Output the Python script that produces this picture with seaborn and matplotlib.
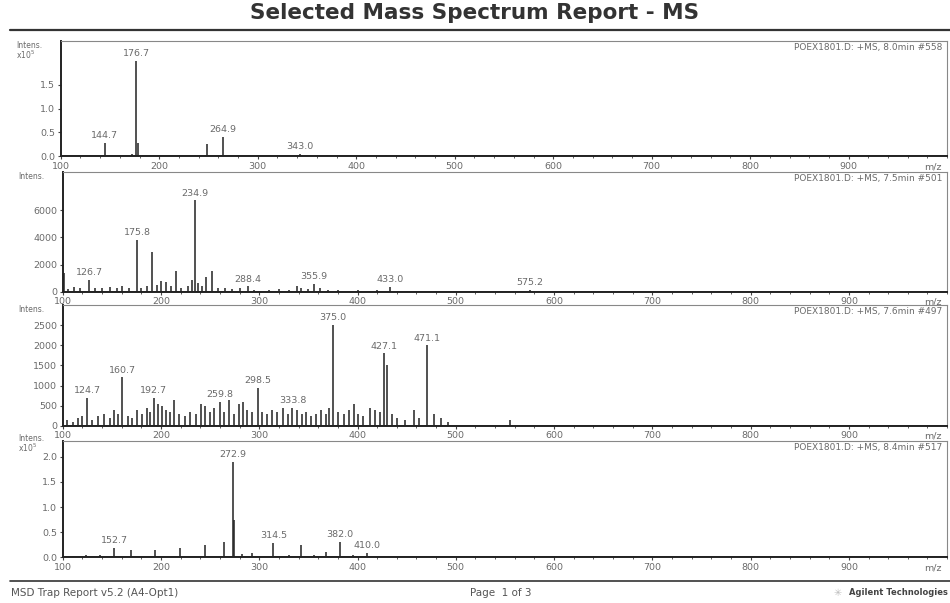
import matplotlib
matplotlib.use("Agg")
import matplotlib.pyplot as plt
from matplotlib.ticker import MultipleLocator
import seaborn as sns
import pandas as pd

sns.set_style("ticks")
plt.rcParams["font.family"] = ["DejaVu Sans"]

# ---- spectrum 1 (intensity x10^5) ----
mz1 = [105, 118, 130, 144.7, 160, 172, 176.7, 178.5, 195, 220, 236, 248.0, 264.9, 280, 300, 320, 343.0, 370, 395, 430]
int1 = [0.02, 0.03, 0.03, 0.28, 0.03, 0.04, 2.0, 0.28, 0.02, 0.03, 0.03, 0.26, 0.40, 0.03, 0.03, 0.02, 0.05, 0.02, 0.02, 0.02]
lab1 = [144.7, 176.7, 264.9, 343.0]

# ---- spectrum 2 (intensity) ----
mz2 = [101, 105, 112, 118, 126.7, 133, 140, 148, 155, 160, 167, 175.8, 180, 186, 191, 196, 200,
       205, 210, 215, 220, 228, 232, 234.9, 238, 242, 246, 252, 258, 265, 272, 280, 288.4, 295,
       310, 320, 330, 338, 342, 350, 355.9, 362, 370, 380, 400, 420, 433.0, 450, 480, 575.2]
int2 = [1400, 200, 350, 250, 900, 300, 250, 350, 300, 400, 250, 3800, 300, 450, 2900, 500, 800,
        700, 400, 1500, 300, 450, 900, 6700, 650, 450, 1100, 1500, 300, 250, 200, 250, 400, 150,
        150, 200, 150, 400, 250, 200, 600, 300, 150, 150, 100, 100, 350, 80, 60, 120]
lab2 = [126.7, 175.8, 234.9, 288.4, 355.9, 433.0, 575.2]

# ---- spectrum 3 (intensity) ----
mz3 = [104, 110, 116, 120, 124.7, 130, 136, 142, 148, 152, 156, 160.7, 166, 171, 176, 181, 186, 189,
       192.7, 197, 201, 205, 209, 213, 218, 224, 230, 236, 241, 245, 250, 254, 259.8, 264, 269, 274,
       279, 283, 288, 293, 298.5, 303, 308, 313, 318, 324, 329, 333.8, 338, 343, 348, 353, 358, 363,
       368, 371, 375.0, 380, 386, 391, 396, 401, 406, 413, 418, 423, 427.1, 430, 435, 440, 448, 457,
       463, 471.1, 478, 485, 492, 555]
int3 = [150, 100, 200, 250, 700, 150, 250, 300, 200, 400, 300, 1200, 250, 200, 400, 300, 450, 350,
        700, 550, 500, 400, 350, 650, 300, 250, 350, 300, 550, 500, 350, 450, 600, 350, 650, 300,
        550, 600, 400, 350, 950, 350, 300, 400, 350, 450, 300, 450, 400, 300, 350, 250, 300, 400,
        300, 450, 2500, 350, 300, 400, 550, 300, 250, 450, 400, 350, 1800, 1500, 300, 200, 150, 400,
        200, 2000, 300, 200, 100, 150]
lab3 = [124.7, 160.7, 192.7, 259.8, 298.5, 333.8, 375.0, 427.1, 471.1]

# ---- spectrum 4 (intensity x10^5) ----
mz4 = [110, 124, 138, 152.7, 170, 194, 219, 245, 264, 272.9, 274.5, 282, 293, 314.5, 330, 342, 356,
       368, 382.0, 395, 410.0]
int4 = [0.03, 0.05, 0.04, 0.18, 0.15, 0.15, 0.19, 0.25, 0.30, 1.90, 0.74, 0.06, 0.08, 0.28, 0.05,
        0.25, 0.05, 0.10, 0.30, 0.04, 0.08]
lab4 = [152.7, 272.9, 314.5, 382.0, 410.0]

titles = ["POEX1801.D: +MS, 8.0min #558", "POEX1801.D: +MS, 7.5min #501",
          "POEX1801.D: +MS, 7.6min #497", "POEX1801.D: +MS, 8.4min #517"]
x_ticks = [100, 200, 300, 400, 500, 600, 700, 800, 900]

panels = [
    dict(mz=mz1, inten=int1, labels=lab1, ylim=2.42, yticks=[0.0, 0.5, 1.0, 1.5], fmt="{:.1f}",
         ylab="Intens.\nx10$^5$", ylab_y=1.0),
    dict(mz=mz2, inten=int2, labels=lab2, ylim=8800, yticks=[0, 2000, 4000, 6000], fmt="{:d}",
         ylab="Intens.", ylab_y=1.0),
    dict(mz=mz3, inten=int3, labels=lab3, ylim=3000, yticks=[0, 500, 1000, 1500, 2000, 2500], fmt="{:d}",
         ylab="Intens.", ylab_y=1.0),
    dict(mz=mz4, inten=int4, labels=lab4, ylim=2.32, yticks=[0.0, 0.5, 1.0, 1.5, 2.0], fmt="{:.1f}",
         ylab="Intens.\nx10$^5$", ylab_y=1.06),
]

# axes rectangles in figure fractions (left, bottom, width, height)
rects = [(0.064, 0.741, 0.933, 0.191), (0.066, 0.516, 0.931, 0.199),
         (0.066, 0.294, 0.931, 0.200), (0.066, 0.076, 0.931, 0.193)]

fig = plt.figure(figsize=(9.5, 6.03), dpi=100)
txt = "#6a6a6a"

for p, rect, ttl in zip(panels, rects, titles):
    ax = fig.add_axes(rect)
    df = pd.DataFrame({"mz": p["mz"], "intensity": p["inten"]})
    # thin baseline trace along the m/z axis
    sns.lineplot(x=[100, 1000], y=[0, 0], ax=ax, color="#333333", lw=1.2)
    ax.vlines(df["mz"], 0, df["intensity"], color="#222222", lw=1.1)
    ax.set_xlim(100, 1000)
    ax.set_ylim(0, p["ylim"])
    ax.set_xticks(x_ticks)
    ax.set_xticklabels([str(t) for t in x_ticks], color=txt, fontsize=6.8)
    ax.xaxis.set_minor_locator(MultipleLocator(20))
    ax.set_yticks(p["yticks"])
    ax.set_yticklabels([p["fmt"].format(t) for t in p["yticks"]], color=txt, fontsize=6.8)
    ax.tick_params(axis="both", length=2.5, width=0.8, pad=1.5, colors="#444444", labelcolor=txt)
    ax.tick_params(axis="x", which="minor", length=1.5, width=0.6, colors="#444444")
    ax.set_xlabel("")
    ax.set_ylabel("")
    for side in ["left", "bottom"]:
        ax.spines[side].set_linewidth(1.4)
        ax.spines[side].set_color("#222222")
    for side in ["top", "right"]:
        ax.spines[side].set_linewidth(0.8)
        ax.spines[side].set_color("#888888")
    # peak labels
    for m in p["labels"]:
        h = df.loc[df["mz"] == m, "intensity"].iloc[0]
        ax.annotate(f"{m:.1f}", (m, h), xytext=(0, 2), textcoords="offset points",
                    ha="center", va="bottom", fontsize=6.8, color=txt)
    ax.text(0.995, 0.985, ttl, transform=ax.transAxes, ha="right", va="top",
            fontsize=6.5, color=txt)
    # axis unit sits in the tick-label row at the right end
    ax.annotate("m/z", (985, 0), xycoords=("data", "axes fraction"), xytext=(0, -4.3),
                textcoords="offset points", ha="center", va="top", fontsize=6.8, color=txt)
    ax.text(-0.05, p["ylab_y"], p["ylab"], transform=ax.transAxes, ha="left", va="top",
            fontsize=5.5, color=txt, linespacing=0.9)

# page header and footer
fig.text(0.5, 0.978, "Selected Mass Spectrum Report - MS", ha="center", va="center",
         fontsize=15.5, color="#333333", fontweight="bold")
fig.add_artist(plt.Line2D([0.01, 1.0], [0.951, 0.951], color="#333333", lw=1.6))
fig.add_artist(plt.Line2D([0.01, 1.0], [0.036, 0.036], color="#333333", lw=1.2))
fig.text(0.012, 0.017, "MSD Trap Report v5.2 (A4-Opt1)", ha="left", va="center",
         fontsize=7.5, color="#555555")
fig.text(0.495, 0.017, "Page  1 of 3", ha="left", va="center", fontsize=7.5, color="#555555")
fig.text(0.882, 0.017, "\u2733", ha="center", va="center", fontsize=7, color="#bbbbbb")
fig.text(0.998, 0.017, "Agilent Technologies", ha="right", va="center", fontsize=6,
         color="#444444", fontweight="bold")

fig.savefig("out.png", dpi=100)
